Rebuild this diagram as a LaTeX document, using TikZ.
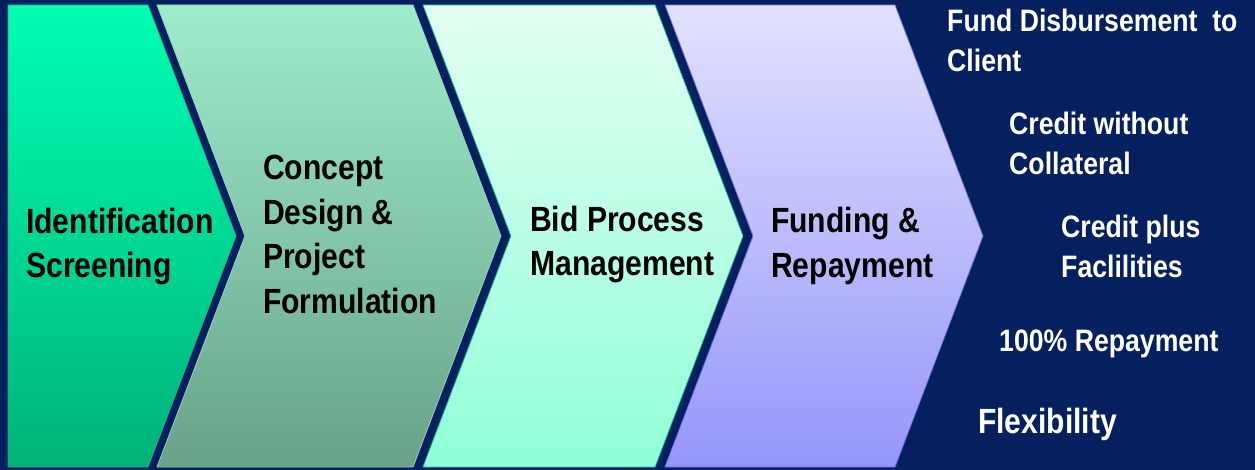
\documentclass[tikz,border=0pt]{standalone}
\usepackage{fontspec}
\setmainfont{Liberation Sans}[FakeStretch=0.86]
\usepackage{tikz}
\usetikzlibrary{calc}
\definecolor{navy}{RGB}{4,32,94}
\definecolor{identtop}{RGB}{0,255,178}
\definecolor{identbot}{RGB}{0,178,120}
\definecolor{identedge}{RGB}{34,178,140}
\definecolor{concepttop}{RGB}{158,236,204}
\definecolor{conceptbot}{RGB}{104,162,136}
\definecolor{conceptedge}{RGB}{150,210,190}
\definecolor{bidtop}{RGB}{226,255,242}
\definecolor{bidbot}{RGB}{144,255,216}
\definecolor{bidedge}{RGB}{34,200,150}
\definecolor{fundtop}{RGB}{226,226,255}
\definecolor{fundbot}{RGB}{150,150,250}
\definecolor{fundedge}{RGB}{110,110,230}
\newcommand{\stagechevron}[6]{
	\fill[top color=#3, bottom color=#4, draw=#5, line width=0.8pt] (#1,5) -- (#2,5) -- ({#2+88},236) -- (#2,467) -- (#1,467) #6 -- cycle;
}
\tikzset{
	stagetext/.style={anchor=base west, align=left, inner sep=0pt, text=black,
		font={\fontsize{35}{44.5}\selectfont\bfseries}},
	notetext/.style={anchor=base west, align=left, inner sep=0pt, text=white,
		font={\fontsize{31}{40}\selectfont\bfseries}}
}
\begin{document}
\begin{tikzpicture}[x=1pt, y=-1pt]
				\fill[navy] (0,0) rectangle (1255,470);
				\useasboundingbox (0,0) rectangle (1255,470);
				\stagechevron{8}{148}{identtop}{identbot}{identedge}{}
				\stagechevron{157}{413}{concepttop}{conceptbot}{conceptedge}{-- (245,236)}
				\stagechevron{423}{655}{bidtop}{bidbot}{bidedge}{-- (511,236)}
				\stagechevron{665}{895}{fundtop}{fundbot}{fundedge}{-- (753,236)}
				% stage labels (base = last line)
				\node[stagetext] (ident) at (26,278) {Identification\\Screening};
				\node[stagetext] (concept) at (263,313) {Concept\\Design \&\\Project\\Formulation};
				\node[stagetext] (bid) at (530,276) {Bid Process\\Management};
				\node[stagetext] (funding) at (771,277) {Funding \&\\Repayment};
				% features on the right
				\node[notetext] (disburse) at (947,72) {Fund Disbursement~ to\\Client};
				\node[notetext] (nocollat) at (1009,175) {Credit without\\Collateral};
				\node[notetext] (creditplus) at (1061,278) {Credit plus\\Faclilities};
				\node[notetext] (repay) at (999,351) {100\% Repayment};
				\node[notetext, font={\fontsize{35}{44}\selectfont\bfseries}] (flex) at (978,433) {Flexibility};
			\end{tikzpicture}
\end{document}
